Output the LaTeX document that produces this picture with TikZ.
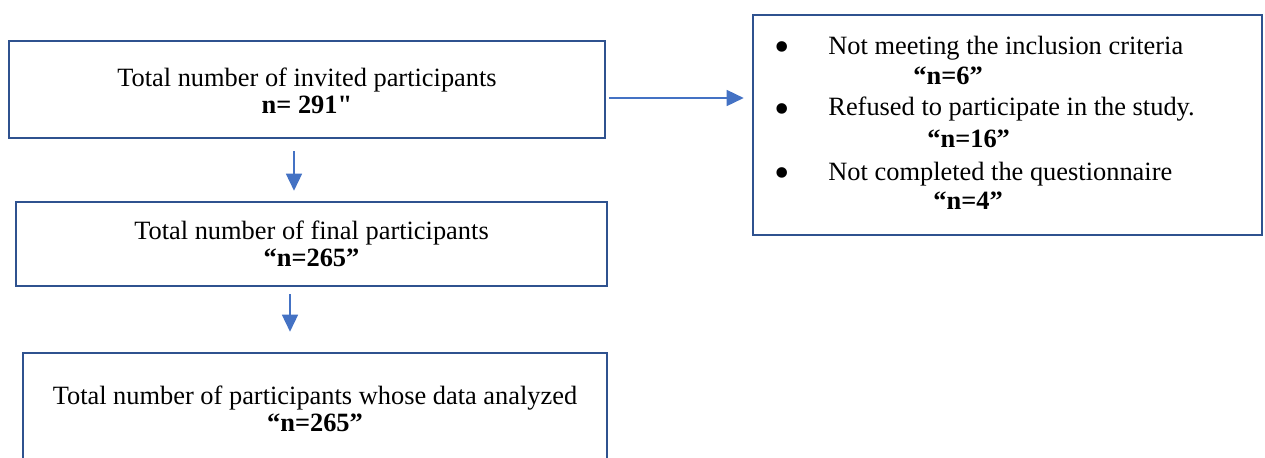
\documentclass[tikz,border=0pt]{standalone}
\usepackage{fontspec}
\setmainfont{Liberation Serif}
\newfontfamily\plainser{Liberation Serif}
\usetikzlibrary{arrows.meta,fit,calc}
\definecolor{boxblue}{HTML}{2F528F}
\definecolor{arrblue}{HTML}{4472C4}
\tikzset{
  box/.style={draw=boxblue, line width=1.3pt, inner sep=0pt},
  boxtxt/.style={inner sep=0pt, align=center, font=\fontsize{13.2pt}{13.6pt}\selectfont},
  arr/.style={draw=arrblue, line width=0.75pt, -{Triangle[length=8.5pt,width=8pt]}, arrblue},
  itemtxt/.style={anchor=mid west, inner sep=0pt, font=\fontsize{13.2pt}{15pt}\selectfont},
  bul/.style={anchor=center, inner sep=0pt, font=\fontsize{22pt}{22pt}\selectfont}
}
\begin{document}
\begin{tikzpicture}[x=0.5pt,y=-0.5pt]
\useasboundingbox (0,0) rectangle (1265,457);
% boxes
\node[box, fit={(9,41) (605,138)}] (b1) {};
\node[box, fit={(16,202) (607,286)}] (b2) {};
\node[box, fit={(23,353) (607,465)}] (b3) {};
\node[box, fit={(753,15) (1262,235)}] (ex) {};
% box texts
\node[boxtxt] (b1t) at ($(b1.center)+(0,1)$) {Total number of invited participants\\{\plainser\bfseries n= 291"}};
\node[boxtxt] (b2t) at ($(b2.center)+(0,0)$) {Total number of final participants\\\textbf{“n=265”}};
\node[boxtxt] (b3t) at (315,409) {Total number of participants whose data analyzed\\\textbf{“n=265”}};
% exclusion list
\node[bul] (u1) at (782,52) {•};
\node[itemtxt] (t1) at (828,50) {Not meeting the inclusion criteria};
\node[itemtxt] (n1) at (913,80) {\textbf{“n=6”}};
\node[bul] (u2) at (782,114) {•};
\node[itemtxt] (t2) at (828,111) {Refused to participate in the study.};
\node[itemtxt] (n2) at (927,143) {\textbf{“n=16”}};
\node[bul] (u3) at (782,178) {•};
\node[itemtxt] (t3) at (828,176) {Not completed the questionnaire};
\node[itemtxt] (n3) at (933,205) {\textbf{“n=4”}};
% connectors
\draw[arr] ($(b1.south)+(-13,12)$) -- ($(b2.north)+(-17.5,-10)$);
\draw[arr] ($(b2.south)+(-21.5,7)$) -- ($(b3.north)+(-25,-20)$);
\draw[arr] ($(b1.east)+(3,8.5)$) -- ($(ex.west)+(-8,-27)$);
\end{tikzpicture}
\end{document}
